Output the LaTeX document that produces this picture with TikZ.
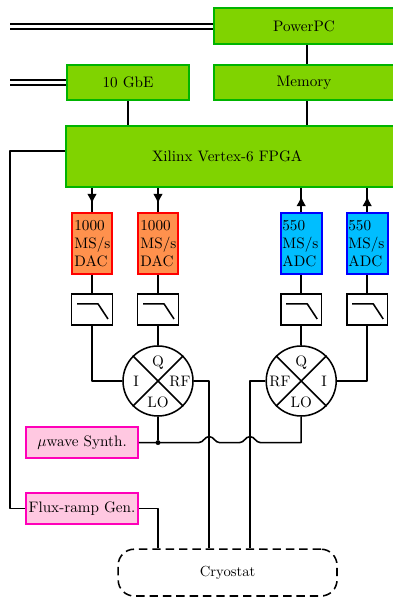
\documentclass[tikz,border=0pt]{standalone}
\usetikzlibrary{arrows.meta,decorations.markings}
\definecolor{fpgagreen}{RGB}{128,211,0}
\definecolor{fpgaedge}{RGB}{0,180,0}
\definecolor{dacfill}{RGB}{255,145,77}
\definecolor{adcfill}{RGB}{0,190,255}
\definecolor{synthfill}{RGB}{255,200,225}
\definecolor{synthedge}{RGB}{255,0,185}
\tikzset{
  wire/.style={line width=1.1pt,line join=round},
  midarrow/.style={wire,decoration={markings,mark=at position 0.65 with {\arrow{Latex[length=7pt,width=7pt]}}},postaction={decorate}},
  netlink/.style={wire,double,double distance=2.2pt},
  digibox/.style={draw=fpgaedge,fill=fpgagreen,line width=1.4pt,inner sep=0pt},
  dacbox/.style={draw=red,fill=dacfill,line width=1.4pt,inner sep=0pt,minimum width=1.02cm,minimum height=1.52cm,text width=0.88cm,align=left},
  adcbox/.style={draw=blue,fill=adcfill,line width=1.4pt,inner sep=0pt,minimum width=1.02cm,minimum height=1.52cm,text width=0.94cm,align=left},
  filterbox/.style={draw=black,fill=white,line width=1.1pt,minimum width=1.02cm,minimum height=0.77cm,inner sep=0pt},
  mixer/.style={circle,draw=black,fill=white,line width=1.1pt,minimum size=1.75cm,inner sep=0pt},
  mixlabel/.style={font=\fontsize{10.8pt}{12pt}\selectfont},
  synthbox/.style={draw=synthedge,fill=synthfill,line width=1.4pt,minimum width=2.8cm,minimum height=0.77cm,inner sep=0pt},
}
\begin{document}
\begin{tikzpicture}[x=1cm,y=1cm,font=\fontsize{10.8pt}{12.8pt}\selectfont]
\useasboundingbox (0,0) rectangle (9.8,14.925);
% digital boards
\node[digibox,minimum width=4.6cm,minimum height=0.89cm] (ppc) at (7.66,14.275) {\hspace*{-0.12cm}PowerPC};
\node[digibox,minimum width=4.6cm,minimum height=0.89cm] (mem) at (7.66,12.86) {\hspace*{-0.12cm}Memory};
\node[digibox,minimum width=3.06cm,minimum height=0.89cm] (gbe) at (3.2,12.86) {10 GbE};
\node[digibox,minimum width=8.4cm,minimum height=1.52cm] (fpga) at (5.86,11.01) {\hspace*{-0.36cm}Xilinx Vertex-6 FPGA};
\coordinate (net1) at (0.25,14.26);
\coordinate (net2) at (0.25,12.86);
\coordinate (busx) at (7.675,0);
\draw[netlink] (net1) -- (net1 -| ppc.west);
\draw[netlink] (net2) -- (net2 -| gbe.west);
\draw[wire] (ppc.south -| busx) -- (mem.north -| busx);
\draw[wire] (mem.south -| busx) -- (fpga.north -| busx);
\draw[wire] (gbe) -- (gbe |- fpga.north);

% converters
\node[dacbox] (dac1) at (2.3,8.84) {1000\\MS/s\\DAC};
\node[dacbox] (dac2) at (3.95,8.84) {1000\\MS/s\\DAC};
\node[adcbox] (adc1) at (7.53,8.84) {550\\MS/s\\ADC};
\node[adcbox] (adc2) at (9.18,8.84) {550\\MS/s\\ADC};
\draw[midarrow] (dac1 |- fpga.south) -- (dac1.north);
\draw[midarrow] (dac2 |- fpga.south) -- (dac2.north);
\draw[midarrow] (adc1.north) -- (adc1 |- fpga.south);
\draw[midarrow] (adc2.north) -- (adc2 |- fpga.south);

% filters
\node[filterbox] (lpf1) at (2.3,7.19) {};
\node[filterbox] (lpf2) at (3.95,7.19) {};
\node[filterbox] (lpf3) at (7.53,7.19) {};
\node[filterbox] (lpf4) at (9.18,7.19) {};
\foreach \f in {lpf1,lpf2,lpf3,lpf4}
  \draw[wire] ([xshift=-0.375cm,yshift=0.14cm]\f.center) -- ([xshift=0.15cm,yshift=0.14cm]\f.center) -- ([xshift=0.4cm,yshift=-0.24cm]\f.center);
\draw[wire] (dac1) -- (lpf1);
\draw[wire] (dac2) -- (lpf2);
\draw[wire] (adc1) -- (lpf3);
\draw[wire] (adc2) -- (lpf4);

% mixers
\node[mixer] (mixa) at (3.95,5.4) {};
\node[mixer] (mixb) at (7.53,5.4) {};
\foreach \m in {mixa,mixb} {
  \draw[wire] (\m.45) -- (\m.225);
  \draw[wire] (\m.135) -- (\m.315);
}
\node[mixlabel] (mixaq) at (3.95,5.87) {Q};
\node[mixlabel] (mixai) at (3.4,5.38) {I};
\node[mixlabel] (mixarf) at (4.5,5.38) {RF};
\node[mixlabel] (mixalo) at (3.95,4.87) {LO};
\node[mixlabel] (mixbq) at (7.53,5.87) {Q};
\node[mixlabel] (mixbrf) at (7.0,5.38) {RF};
\node[mixlabel] (mixbi) at (8.1,5.38) {I};
\node[mixlabel] (mixblo) at (7.53,4.87) {LO};
\draw[wire] (lpf1) |- (mixa.west);
\draw[wire] (lpf2) -- (mixa);
\draw[wire] (lpf3) -- (mixb);
\draw[wire] (lpf4) |- (mixb.east);

% sources and cryostat
\node[synthbox] (synth) at (2.05,3.86) {$\mu$wave Synth.};
\node[synthbox] (flux) at (2.05,2.21) {Flux-ramp Gen.};
\node[draw=black,dash pattern=on 6pt off 3.5pt,rounded corners=0.4cm,line width=1.1pt,minimum width=5.47cm,minimum height=1.17cm,inner sep=0pt,font=\fontsize{10.4pt}{12pt}\selectfont] (cryo) at (5.69,0.61) {Cryostat};
\coordinate (ifa) at (5.23,5.4);
\coordinate (ifb) at (6.25,5.4);
\draw[wire] (mixa.east) -- (ifa) -- (ifa |- cryo.north);
\draw[wire] (mixb.west) -- (ifb) -- (ifb |- cryo.north);
\node[circle,fill=black,inner sep=0pt,minimum size=3.5pt] (tee) at (mixa |- synth) {};
\draw[wire] (mixa) -- (tee);
\coordinate (jumpa) at (ifa |- synth);
\coordinate (jumpb) at (ifb |- synth);
\draw[wire] (synth.east) -- ([xshift=-0.26cm]jumpa) to[out=0,in=180] ([yshift=0.15cm]jumpa) to[out=0,in=180] ([xshift=0.26cm]jumpa)
  -- ([xshift=-0.26cm]jumpb) to[out=0,in=180] ([yshift=0.15cm]jumpb) to[out=0,in=180] ([xshift=0.26cm]jumpb)
  -| (mixb.south);
\coordinate (rail) at (0.25,11.15);
\draw[wire] (fpga.west |- rail) -- (rail) -- (rail |- flux) -- (flux.west);
\draw[wire] (flux.east) -| (cryo.north -| mixa);
\end{tikzpicture}
\end{document}
